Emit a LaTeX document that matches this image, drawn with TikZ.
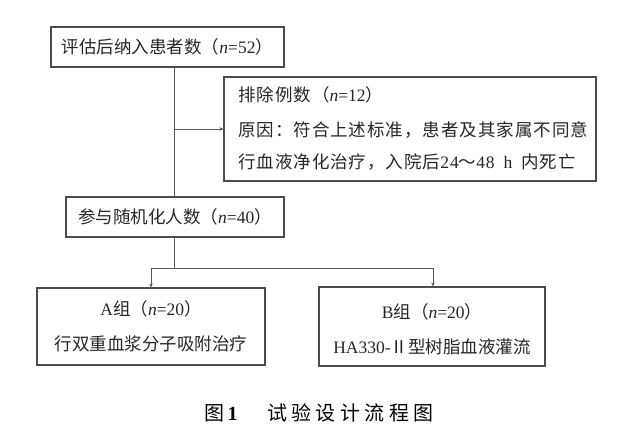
\documentclass[tikz,border=0pt]{standalone}
\usepackage{fontspec}
\setmainfont{Liberation Serif}
\newfontfamily\cjk{Noto Sans CJK SC}
\newfontfamily\cjkw[LetterSpace=5.5]{Noto Sans CJK SC}
\newfontfamily\latw[LetterSpace=5.5]{Liberation Serif}
\newfontfamily\cjkcap[LetterSpace=22]{Noto Sans CJK SC}
\usetikzlibrary{arrows.meta}
\tikzset{
  box/.style={draw=black!70, line width=1.1pt, inner sep=0pt, font=\fontsize{17.5}{21}\selectfont, text=black!85},
  conn/.style={draw=black!65, line width=1pt},
  arr/.style={conn, -{Stealth[length=4pt,width=3.5pt]}},
  txt/.style={inner sep=0pt, font=\fontsize{17.5}{21}\selectfont, text=black!85, anchor=west},
}
\newcommand{\nn}{{\itshape n}}
\begin{document}
\begin{tikzpicture}[x=1pt,y=-1pt]
\useasboundingbox (0,0) rectangle (621,436);
% boxes
\node[box, minimum width=233pt, minimum height=40pt] (top) at (167.5,47) {\cjk 评估后纳入患者数（\normalfont\nn=52\cjk ）};
\node[box, minimum width=372pt, minimum height=104pt] (excl) at (410,129) {};
\node[txt] (e1) at (238,95) {\cjkw 排除例数（\normalfont\nn=12\cjkw ）};
\node[txt] (e2) at (238,130) {\cjkw 原因：符合上述标准，患者及其家属不同意};
\node[txt] (e3) at (238,162) {\cjkw 行血液净化治疗，入院后\latw 24\cjkw ～\latw 48\hspace{9pt}h\hspace{9pt}\cjkw 内死亡};
\node[box, minimum width=218pt, minimum height=40pt] (mid) at (175,217) {\cjk 参与随机化人数（\normalfont\nn=40\cjk ）};
\node[box, minimum width=228pt, minimum height=77pt] (ga) at (151,326.5) {};
\node[txt, anchor=center] (a1) at (151,309) {A\cjk 组（\normalfont\nn=20\cjk ）};
\node[txt, anchor=center] (a2) at (151,344) {\cjk 行双重血浆分子吸附治疗};
\node[box, minimum width=226pt, minimum height=79pt] (gb) at (432,326.5) {};
\node[txt, anchor=center] (b1) at (432,312) {B\cjk 组（\normalfont\nn=20\cjk ）};
\node[txt, anchor=center] (b2) at (432,347) {HA330-\cjk Ⅱ型树脂血液灌流};
% connectors
\coordinate (tr) at (174,0);
\coordinate (split) at (174,268);
\draw[conn] (top.south -| tr) -- (mid.north -| tr);
\draw[arr] (excl.west -| tr) -- (excl.west);
\draw[conn] (mid.south -| tr) -- (split);
\draw[conn] (split -| ga.north) -- (split -| 433,0);
\draw[arr] (split -| ga.north) -- (ga.north);
\draw[arr] (split -| 433,0) -- (gb.north -| 433,0);
% caption
\node[inner sep=0pt, anchor=west, font=\fontsize{20}{24}\selectfont] (c1) at (204,413) {\cjk 图\,\normalfont\bfseries 1};
\node[inner sep=0pt, anchor=west, font=\fontsize{20}{24}\selectfont] (c2) at (267,413) {\cjkcap 试验设计流程图};
\end{tikzpicture}
\end{document}
